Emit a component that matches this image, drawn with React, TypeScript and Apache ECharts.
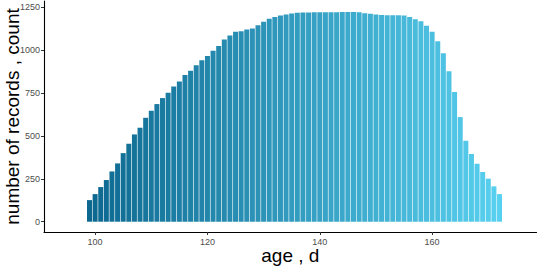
import React, { useEffect, useRef } from "react";
import * as echarts from "echarts";

const ages: number[] = Array.from({ length: 74 }, (_, i) => 99 + i);
const counts: number[] = [
  126, 161, 202, 243, 293, 340, 400, 455, 509, 548,
  606, 647, 686, 721, 752, 789, 818, 855, 880, 913,
  942, 966, 997, 1024, 1063, 1086, 1107, 1111, 1121, 1126,
  1146, 1166, 1183, 1193, 1203, 1208, 1214, 1218, 1220, 1220,
  1221, 1221, 1221, 1222, 1222, 1223, 1223, 1223, 1222, 1216,
  1212, 1208, 1206, 1204, 1204, 1204, 1203, 1193, 1181, 1169,
  1142, 1107, 1053, 983, 878, 756, 610, 472, 395, 338,
  290, 251, 206, 161,
];
const xTicks: number[] = [100, 120, 140, 160];
const yTicks: number[] = [0, 250, 500, 750, 1000, 1250];

const FONT = "'Liberation Sans', Arial, sans-serif";

export default function App() {
  const ref = useRef<HTMLDivElement>(null);
  useEffect(() => {
    if (!ref.current) return;
    const chart = echarts.init(ref.current, null, { renderer: "svg" });
    chart.setOption({
      animation: false,
      backgroundColor: "#ffffff",
      grid: {
        left: 44,
        right: 3.4,
        top: 1,
        bottom: 34,
        containLabel: false,
        outerBoundsMode: "none",
      },
      visualMap: {
        show: false,
        type: "continuous",
        dimension: 0,
        min: 99,
        max: 172,
        inRange: { color: ["#0d6890", "#58d0ef"] },
      },
      xAxis: {
        type: "value",
        min: 90.9,
        max: 178.6,
        splitLine: { show: false },
        axisLine: { show: true, onZero: false, lineStyle: { color: "#000", width: 1.1 } },
        axisTick: { show: true, length: 3, customValues: xTicks, lineStyle: { color: "#333", width: 1 } },
        axisLabel: {
          customValues: xTicks,
          formatter: (v: number) => String(v),
          color: "#4d4d4d",
          fontSize: 9,
          fontFamily: FONT,
          margin: 5,
        },
        name: "age , d",
        nameLocation: "middle",
        nameGap: 14,
        nameMoveOverlap: false,
        nameTextStyle: { color: "#000", fontSize: 19, lineHeight: 19, fontFamily: FONT },
      },
      yAxis: {
        type: "value",
        min: -60,
        max: 1287,
        splitLine: { show: false },
        axisLine: { show: true, onZero: false, lineStyle: { color: "#000", width: 1.1 } },
        axisTick: { show: true, length: 3, customValues: yTicks, lineStyle: { color: "#333", width: 1 } },
        axisLabel: {
          customValues: yTicks,
          formatter: (v: number) => String(v),
          color: "#4d4d4d",
          fontSize: 9,
          fontFamily: FONT,
          margin: 4,
        },
        name: "number of records , count",
        nameLocation: "middle",
        nameGap: 22,
        nameMoveOverlap: false,
        nameTextStyle: { color: "#000", fontSize: 19, lineHeight: 19, fontFamily: FONT },
      },
      series: [
        {
          type: "bar",
          data: ages.map((a, i) => [a, counts[i]]),
          barWidth: 5,
          itemStyle: { borderWidth: 0 },
        },
      ],
    });
    return () => chart.dispose();
  }, []);
  return (
    <div
      ref={ref}
      style={{ position: "fixed", left: 0, top: 0, width: 540, height: 266, background: "#fff" }}
    />
  );
}
